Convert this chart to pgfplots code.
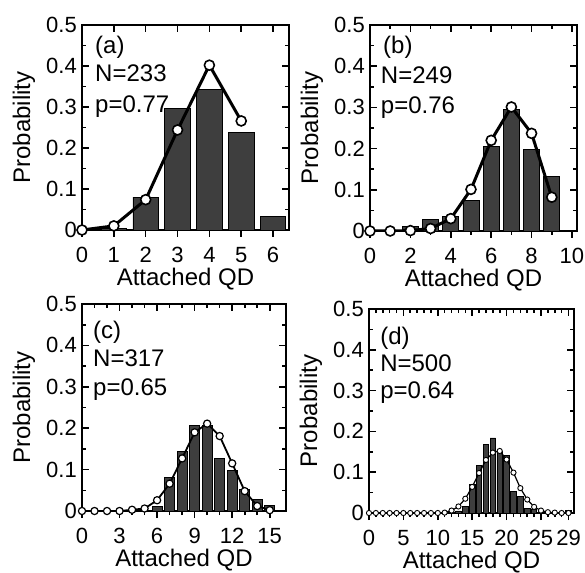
\documentclass[border=0pt]{standalone}
\usepackage{fontspec}
\setmainfont{Liberation Sans}
\usepackage{pgfplots}
\pgfplotsset{compat=1.18}

\definecolor{bargray}{RGB}{62,62,62}

\tikzset{info/.style={anchor=base west, inner sep=0pt}}

\pgfplotsset{
  panel/.style={
    scale only axis,
    xmin=0, ymin=0, ymax=0.5,
    ytick={0,0.1,0.2,0.3,0.4,0.5},
    minor y tick num=1,
    xtick pos=bottom, xtick align=outside,
    ytick align=inside,
    axis line style={line width=1.6pt},
    every tick/.style={line width=1.6pt, black},
    major tick length=7pt, minor tick length=4pt,
    /pgf/number format/assume math mode=true,
    tick label style={font=\fontsize{22}{25}\selectfont},
    yticklabel style={/pgf/number format/fixed, inner sep=0pt, xshift=-5pt},
    xticklabel style={inner sep=0pt, yshift=-10pt},
    xlabel={Attached QD}, ylabel={Probability},
    every axis y label/.style={at={(axis description cs:0,0.5)}, rotate=90, anchor=center, yshift=58pt},
    every axis x label/.style={at={(axis description cs:0.5,0)}, anchor=center, yshift=-49pt},
  },
  topticks/.style={
    scale only axis,
    xmin=0, ymin=0, ymax=1,
    axis x line*=top, axis y line=none,
    xtick align=inside, xticklabels={},
    axis line style={line width=1.6pt},
    every tick/.style={line width=1.6pt, black},
    major tick length=7pt, minor tick length=4pt,
  },
  bars/.style={ybar, bar width=0.8, fill=bargray, draw=black, line width=0.8pt},
  curve/.style={black, mark=*},
}

\begin{document}
\begin{tikzpicture}[font=\fontsize{24}{28}\selectfont]
\useasboundingbox (0,0) rectangle (585pt,572pt);

% (a)
\begin{axis}[panel, at={(82pt,342pt)}, width=207pt, height=205pt,
  xmax=6.5, xtick={0,1,2,3,4,5,6}]
\addplot[bars] coordinates {(1,0.003) (2,0.080) (3,0.296) (4,0.342) (5,0.239) (6,0.033)};
\addplot[curve, line width=3pt, mark size=5pt, mark options={fill=white, draw=black, line width=1.6pt}]
  coordinates {(0,0) (1,0.010) (2,0.074) (3,0.244) (4,0.402) (5,0.266)};
\node[info] at (rel axis cs:0.063,0.863) {(a)};
\node[info] at (rel axis cs:0.063,0.722) {N=233};
\node[info] at (rel axis cs:0.063,0.571) {p=0.77};
\end{axis}
\begin{axis}[topticks, at={(82pt,342pt)}, width=207pt, height=205pt,
  xmax=6.5, xtick={0,1,2,3,4,5,6}]
\end{axis}

% (b)
\begin{axis}[panel, at={(370pt,341pt)}, width=207pt, height=206pt,
  xmax=10.25, xtick={0,2,4,6,8,10}, minor x tick num=1]
\addplot[bars] coordinates {(2,0.010) (3,0.028) (4,0.035) (5,0.074) (6,0.205) (7,0.294) (8,0.198) (9,0.133) (10,0.002)};
\addplot[curve, line width=3pt, mark size=5pt, mark options={fill=white, draw=black, line width=1.6pt}]
  coordinates {(0,0) (1,0) (2,0.001) (3,0.006) (4,0.030) (5,0.101) (6,0.220) (7,0.301) (8,0.237) (9,0.082)};
\node[info] at (rel axis cs:0.063,0.863) {(b)};
\node[info] at (rel axis cs:0.052,0.718) {N=249};
\node[info] at (rel axis cs:0.052,0.570) {p=0.76};
\end{axis}
\begin{axis}[topticks, at={(370pt,341pt)}, width=207pt, height=206pt,
  xmax=10.25, xtick={0,2,4,6,8,10}, minor x tick num=1]
\end{axis}

% (c)
\begin{axis}[panel, at={(82pt,61pt)}, width=204pt, height=207pt,
  xmax=16.3, xtick={0,3,6,9,12,15}, minor x tick num=2]
\addplot[bars] coordinates {(6,0.010) (7,0.081) (8,0.143) (9,0.206) (10,0.206) (11,0.127) (12,0.097) (13,0.052) (14,0.028) (15,0.014)};
\addplot[curve, line width=1.8pt, mark size=3.6pt, mark options={fill=white, draw=black, line width=1.2pt}]
  coordinates {(0,0) (1,0) (2,0) (3,0) (4,0.003) (5,0.006) (6,0.026) (7,0.066) (8,0.127) (9,0.190) (10,0.211) (11,0.181) (12,0.115) (13,0.048) (14,0.012) (15,0.002)};
\node[info] at (rel axis cs:0.054,0.831) {(c)};
\node[info] at (rel axis cs:0.054,0.700) {N=317};
\node[info] at (rel axis cs:0.054,0.556) {p=0.65};
\end{axis}
\begin{axis}[topticks, at={(82pt,61pt)}, width=204pt, height=207pt,
  xmax=16.3, xtick={0,3,6,9,12,15}, minor x tick num=2]
\end{axis}

% (d)
\begin{axis}[panel, at={(369pt,59pt)}, width=205pt, height=204pt,
  xmax=29.8, xtick={0,5,10,15,20,25,29}, minor xtick={0,1,...,29}]
\addplot[bars] coordinates {(12,0.002) (13,0.005) (14,0.017) (15,0.071) (16,0.116) (17,0.169) (18,0.184) (19,0.150) (20,0.140) (21,0.053) (22,0.041) (23,0.012) (24,0.010) (25,0.004) (26,0.002) (27,0.002) (28,0.002) (29,0.007)};
\addplot[curve, line width=1.2pt, mark size=2.6pt, mark options={fill=white, draw=black, line width=0.9pt}]
  coordinates {(0,0) (1,0) (2,0) (3,0) (4,0) (5,0) (6,0) (7,0) (8,0) (9,0) (10,0) (11,0.001) (12,0.006) (13,0.016) (14,0.035) (15,0.064) (16,0.098) (17,0.130) (18,0.148) (19,0.152) (20,0.131) (21,0.099) (22,0.061) (23,0.033) (24,0.015) (25,0.006) (26,0.002) (27,0.001) (28,0) (29,0)};
\node[info] at (rel axis cs:0.054,0.828) {(d)};
\node[info] at (rel axis cs:0.054,0.696) {N=500};
\node[info] at (rel axis cs:0.054,0.559) {p=0.64};
\end{axis}
\begin{axis}[topticks, at={(369pt,59pt)}, width=205pt, height=204pt,
  xmax=29.8, xtick={0,5,10,15,20,25,29}, minor xtick={0,1,...,29}]
\end{axis}

\end{tikzpicture}
\end{document}
